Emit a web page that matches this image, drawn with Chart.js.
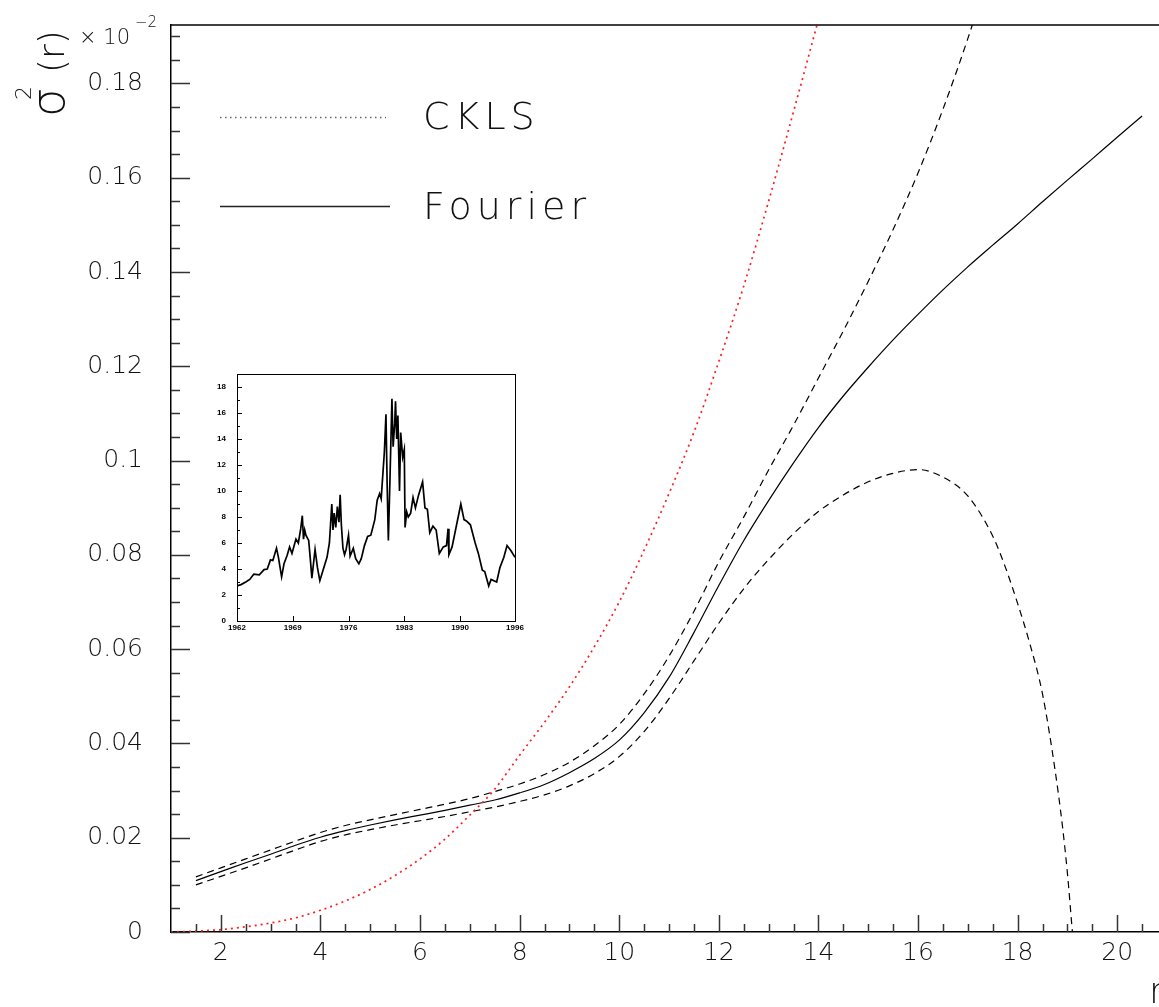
<!DOCTYPE html>
<html>
<head>
<meta charset="utf-8">
<script src="https://cdn.jsdelivr.net/npm/chart.js@4/dist/chart.umd.min.js"></script>
<style>
  html, body { margin: 0; padding: 0; background: #fff; overflow: hidden; }
  #wrap { position: relative; width: 1159px; height: 1007px; overflow: hidden; }
  #main { position: absolute; left: 0; top: 0; }
  #inset { position: absolute; left: 205px; top: 362px; }
</style>
</head>
<body>
<div id="wrap">
  <canvas id="main" width="1180" height="1007"></canvas>
  <canvas id="inset" width="320" height="275"></canvas>
</div>
<script>
// CKLS parametric volatility
var cklsR   = [1, 1.5, 2, 2.5, 3, 3.5, 4, 4.5, 5, 5.5, 6, 6.5, 7, 7.5, 8, 8.5, 9, 9.5, 10, 10.5, 11, 11.5, 12, 12.5, 13, 13.5, 14];
var cklsVar = [0, 0.0002, 0.0005, 0.0011, 0.0019, 0.003, 0.0046, 0.0066, 0.009, 0.012, 0.0155, 0.0197, 0.0248, 0.0303, 0.0375,
               0.0445, 0.052, 0.0605, 0.07, 0.081, 0.093, 0.106, 0.121, 0.137, 0.155, 0.174, 0.1935];

// Fourier estimate and its band
var fourierR   = [1.5, 2, 2.5, 3, 3.5, 4, 4.5, 5, 5.5, 6, 6.5, 7, 7.5, 8, 8.5, 9, 9.5, 10, 10.5, 11, 11.5, 12, 12.5, 13,
                  13.5, 14, 14.5, 15, 15.5, 16, 16.5, 17, 17.5, 18, 18.5, 19, 19.5, 20, 20.5];
var fourierVar = [0.0109, 0.0128, 0.0147, 0.0165, 0.0184, 0.0201, 0.0215, 0.0227, 0.0238, 0.0248, 0.0258, 0.0269, 0.028,
                  0.0295, 0.0313, 0.0338, 0.0368, 0.0407, 0.0465, 0.054, 0.0635, 0.0735, 0.083, 0.0915, 0.0995, 0.107,
                  0.1137, 0.1198, 0.1256, 0.131, 0.1362, 0.1411, 0.1457, 0.1502, 0.1549, 0.1595, 0.164, 0.1686, 0.1731];

var upperR   = [1.5, 2, 2.5, 3, 3.5, 4, 4.5, 5, 5.5, 6, 6.5, 7, 7.5, 8, 8.5, 9, 9.5, 10, 10.5, 11, 11.5, 12, 12.5, 13,
                13.5, 14, 14.5, 15, 15.5, 16, 16.5, 17, 17.5];
var upperVar = [0.0117, 0.0136, 0.0155, 0.0174, 0.0193, 0.0211, 0.0226, 0.0238, 0.0249, 0.026, 0.0271, 0.0283, 0.0298,
                0.0314, 0.0334, 0.036, 0.0395, 0.044, 0.0505, 0.0585, 0.068, 0.0785, 0.088, 0.098, 0.1075, 0.1175,
                0.1275, 0.138, 0.149, 0.161, 0.1745, 0.1895, 0.206];

var lowerR   = [1.5, 2, 2.5, 3, 3.5, 4, 4.5, 5, 5.5, 6, 6.5, 7, 7.5, 8, 8.5, 9, 9.5, 10, 10.5, 11, 11.5, 12, 12.5, 13,
                13.5, 14, 14.5, 15, 15.5, 16, 16.5, 17, 17.5, 17.75, 18, 18.25, 18.5, 18.75, 18.9, 19, 19.1];
var lowerVar = [0.01, 0.0118, 0.0136, 0.0155, 0.0174, 0.0192, 0.0206, 0.0217, 0.0227, 0.0236, 0.0245, 0.0255, 0.0265,
                0.0277, 0.0291, 0.031, 0.0336, 0.0372, 0.0425, 0.0495, 0.0575, 0.0655, 0.0728, 0.079, 0.0845, 0.0892,
                0.0927, 0.0955, 0.0973, 0.0981, 0.0965, 0.0925, 0.084, 0.0775, 0.0697, 0.061, 0.0505, 0.0345, 0.0225,
                0.0125, 0];

var xTicks = [2, 4, 6, 8, 10, 12, 14, 16, 18, 20];
var xTickLabels = ['2', '4', '6', '8', '10', '12', '14', '16', '18', '20'];
var yTicks = [0, 0.02, 0.04, 0.06, 0.08, 0.1, 0.12, 0.14, 0.16, 0.18];
var yTickLabels = ['0', '0.02', '0.04', '0.06', '0.08', '0.1', '0.12', '0.14', '0.16', '0.18'];

// short rate history for the small panel
var insetYears = [1962.0, 1962.5, 1963.1, 1963.6, 1964.1, 1964.8, 1965.4, 1965.8, 1966.2, 1966.5, 1966.96, 1967.2,
  1967.6, 1967.9, 1968.3, 1968.6, 1968.9, 1969.4, 1969.7, 1970.0, 1970.2, 1970.35, 1970.5, 1970.65, 1971.0, 1971.2,
  1971.4, 1971.8, 1972.1, 1972.4, 1972.8, 1973.3, 1973.6, 1973.9, 1974.05, 1974.2, 1974.4, 1974.6, 1974.8, 1974.95,
  1975.1, 1975.3, 1975.5, 1975.7, 1976.0, 1976.2, 1976.6, 1976.9, 1977.3, 1977.6, 1978.0, 1978.4, 1978.8, 1979.3,
  1979.6, 1979.9, 1980.1, 1980.3, 1980.5, 1980.7, 1980.85, 1981.0, 1981.2, 1981.45, 1981.6, 1981.8, 1981.9, 1982.05,
  1982.2, 1982.4, 1982.55, 1982.8, 1983.0, 1983.1, 1983.3, 1983.5, 1983.8, 1984.1, 1984.4, 1984.8, 1985.3, 1985.6,
  1985.9, 1986.2, 1986.6, 1987.0, 1987.4, 1987.9, 1988.3, 1988.5, 1988.6, 1989.0, 1989.6, 1990.1, 1990.5, 1990.8,
  1991.3, 1991.9, 1992.3, 1992.8, 1993.1, 1993.6, 1993.9, 1994.6, 1995.0, 1995.5, 1995.9, 1996.4, 1996.9];
var insetRates = [2.7, 2.8, 3.0, 3.2, 3.6, 3.55, 3.95, 4.0, 4.7, 4.65, 5.6, 4.9,
  3.4, 4.4, 5.05, 5.7, 5.2, 6.3, 6.0, 7.1, 8.1, 6.3, 7.0, 6.6, 6.2, 4.8,
  3.3, 5.5, 4.1, 3.1, 3.9, 4.9, 6.0, 9.0, 7.0, 8.3, 7.2, 8.8, 7.6, 9.7,
  7.4, 5.6, 5.1, 5.5, 6.6, 5.0, 5.6, 4.8, 4.4, 4.8, 5.8, 6.5, 6.6, 7.8,
  9.3, 9.8, 9.4, 11.2, 13.0, 15.9, 10.5, 6.2, 10.8, 17.1, 13.4, 15.2, 16.9, 14.0,
  15.8, 10.0, 14.5, 12.6, 13.2, 7.2, 8.4, 8.0, 8.3, 9.5, 8.7, 9.7, 10.7, 8.7,
  8.6, 6.8, 7.3, 7.0, 5.2, 5.7, 5.8, 7.1, 5.1, 5.7, 7.5, 9.0, 7.8, 7.7,
  7.4, 6.0, 5.2, 3.9, 3.8, 2.7, 3.2, 3.0, 4.1, 4.9, 5.8, 5.4, 4.9];
var insetXTicks = [1962, 1969, 1976, 1983, 1990, 1996.9];
var insetXLabels = ['1962', '1969', '1976', '1983', '1990', '1996'];
var insetYTicks = [0, 2, 4, 6, 8, 10, 12, 14, 16, 18];

var FONT = "'DejaVu Sans', sans-serif";

function toPoints(xs, ys) {
  return xs.map(function(x, i) { return {x: x, y: ys[i]}; });
}

// keep the plot box exactly where the layout puts it (no label overhang padding)
function fixSize(prop, size) {
  return function(s) {
    s[prop] = size;
    s.paddingTop = 0; s.paddingBottom = 0; s.paddingLeft = 0; s.paddingRight = 0;
  };
}

// inward ticks plus the top frame line
var rootTicks = {
  id: 'rootTicks',
  afterDraw: function(chart) {
    var ctx = chart.ctx, a = chart.chartArea, sx = chart.scales.x, sy = chart.scales.y;
    ctx.save();
    ctx.strokeStyle = '#000';
    ctx.lineWidth = 1.5;
    ctx.beginPath();
    ctx.moveTo(a.left, a.top);
    ctx.lineTo(a.right + 2, a.top);
    ctx.stroke();
    ctx.strokeStyle = '#333';
    for (var k = 0; k * 0.005 <= sy.max; k++) {
      var py = Math.round(sy.getPixelForValue(k * 0.005)) + 0.5;
      var len = (k % 4 === 0) ? 19 : 9;
      ctx.beginPath();
      ctx.moveTo(a.left, py);
      ctx.lineTo(a.left + len, py);
      ctx.stroke();
    }
    for (var j = 1; sx.min + j * 0.5 < sx.max; j++) {
      var v = sx.min + j * 0.5;
      var px = Math.round(sx.getPixelForValue(v)) + 0.5;
      var l = (v % 2 === 0) ? 17 : 8;
      ctx.beginPath();
      ctx.moveTo(px, a.bottom);
      ctx.lineTo(px, a.bottom - l);
      ctx.stroke();
    }
    ctx.restore();
  }
};

// legend entries and axis titles
var rootText = {
  id: 'rootText',
  afterDraw: function(chart) {
    var ctx = chart.ctx, ds = chart.data.datasets;
    ctx.save();
    ctx.lineWidth = 1.3;
    ctx.strokeStyle = '#666';
    ctx.setLineDash([1.5, 3.5]);
    ctx.beginPath(); ctx.moveTo(220, 117.5); ctx.lineTo(386, 117.5); ctx.stroke();
    ctx.setLineDash([]);
    ctx.strokeStyle = '#222';
    ctx.beginPath(); ctx.moveTo(220, 206.5); ctx.lineTo(390, 206.5); ctx.stroke();

    ctx.fillStyle = '#111';
    ctx.textBaseline = 'alphabetic';
    ctx.textAlign = 'left';
    ctx.font = '200 38px ' + FONT;
    ctx.letterSpacing = '5px';
    ctx.fillText(ds[0].label, 423, 129);
    ctx.fillText(ds[1].label, 423, 219);
    ctx.letterSpacing = '0px';

    // multiplier next to the y axis
    ctx.font = '200 21px ' + FONT;
    ctx.fillText('\u00d7 10', 79, 44);
    ctx.font = '200 15px ' + FONT;
    ctx.fillText('\u22122', 135, 27);

    // x axis title
    ctx.font = '200 36px ' + FONT;
    ctx.fillText('r', 1149, 1003);

    // y axis title, rotated
    ctx.translate(64, 117);
    ctx.rotate(-Math.PI / 2);
    ctx.font = '200 46px ' + FONT;
    ctx.fillText('\u03c3', 0, 0);
    ctx.font = '200 22px ' + FONT;
    ctx.fillText('2', 17, -33);
    ctx.font = '200 36px ' + FONT;
    ctx.fillText('(r)', 44, 0);
    ctx.restore();
  }
};

new Chart(document.getElementById('main'), {
  type: 'line',
  data: {
    datasets: [
      { label: 'CKLS', data: toPoints(cklsR, cklsVar), borderColor: 'rgb(255,30,30)', borderWidth: 1.7,
        borderDash: [2, 4], pointRadius: 0, cubicInterpolationMode: 'monotone' },
      { label: 'Fourier', data: toPoints(fourierR, fourierVar), borderColor: '#000', borderWidth: 1.2,
        pointRadius: 0, cubicInterpolationMode: 'monotone' },
      { label: 'upper', data: toPoints(upperR, upperVar), borderColor: '#000', borderWidth: 1.2,
        borderDash: [7, 5], pointRadius: 0, cubicInterpolationMode: 'monotone' },
      { label: 'lower', data: toPoints(lowerR, lowerVar), borderColor: '#000', borderWidth: 1.2,
        borderDash: [7, 5], pointRadius: 0, cubicInterpolationMode: 'monotone' }
    ]
  },
  options: {
    responsive: false,
    animation: false,
    devicePixelRatio: 1,
    layout: { padding: { top: 25, right: 13, left: 0, bottom: 0 } },
    plugins: { legend: { display: false }, tooltip: { enabled: false } },
    scales: {
      x: {
        type: 'linear', min: 1, max: 21,
        grid: { display: false, drawTicks: false },
        border: { color: '#000', width: 1.5 },
        afterBuildTicks: function(s) { s.ticks = xTicks.map(function(v) { return {value: v}; }); },
        afterFit: fixSize('height', 75),
        ticks: {
          autoSkip: false, maxRotation: 0, padding: 6, color: '#111',
          font: { family: FONT, size: 25, weight: 200 },
          callback: function(v, i) { return xTickLabels[i]; }
        }
      },
      y: {
        type: 'linear', min: 0, max: 0.1924,
        grid: { display: false, drawTicks: false },
        border: { color: '#000', width: 1.5 },
        afterBuildTicks: function(s) { s.ticks = yTicks.map(function(v) { return {value: v}; }); },
        afterFit: fixSize('width', 171),
        ticks: {
          autoSkip: false, padding: 28, color: '#111',
          font: { family: FONT, size: 25, weight: 200 },
          callback: function(v, i) { return yTickLabels[i]; }
        }
      }
    }
  },
  plugins: [rootTicks, rootText]
});

// boxed frame with inward ticks for the small panel
var insetFrame = {
  id: 'insetFrame',
  afterDraw: function(chart) {
    var ctx = chart.ctx, a = chart.chartArea, sx = chart.scales.x, sy = chart.scales.y;
    ctx.save();
    ctx.strokeStyle = '#000';
    ctx.lineWidth = 1;
    ctx.strokeRect(Math.round(a.left) + 0.5, Math.round(a.top) + 0.5,
                   Math.round(a.right - a.left), Math.round(a.bottom - a.top));
    for (var v = 1; v < sy.max; v++) {
      var py = Math.round(sy.getPixelForValue(v)) + 0.5;
      ctx.beginPath();
      ctx.moveTo(a.left, py);
      ctx.lineTo(a.left + (v % 2 === 0 ? 5 : 3), py);
      ctx.stroke();
    }
    insetXTicks.forEach(function(t) {
      var px = Math.round(sx.getPixelForValue(t)) + 0.5;
      ctx.beginPath();
      ctx.moveTo(px, a.bottom);
      ctx.lineTo(px, a.bottom - 5);
      ctx.stroke();
    });
    ctx.restore();
  }
};

new Chart(document.getElementById('inset'), {
  type: 'line',
  data: {
    datasets: [{ data: toPoints(insetYears, insetRates), borderColor: '#000', borderWidth: 1.7,
                 pointRadius: 0, tension: 0 }]
  },
  options: {
    responsive: false,
    animation: false,
    devicePixelRatio: 1,
    layout: { padding: { top: 12, right: 10, left: 0, bottom: 0 } },
    plugins: { legend: { display: false }, tooltip: { enabled: false } },
    scales: {
      x: {
        type: 'linear', min: 1962, max: 1996.9,
        grid: { display: false, drawTicks: false },
        border: { display: false },
        afterBuildTicks: function(s) { s.ticks = insetXTicks.map(function(v) { return {value: v}; }); },
        afterFit: fixSize('height', 16),
        ticks: {
          autoSkip: false, maxRotation: 0, padding: 2, color: '#000',
          font: { family: 'Liberation Sans', size: 8, weight: 'bold' },
          callback: function(v, i) { return insetXLabels[i]; }
        }
      },
      y: {
        type: 'linear', min: 0, max: 19,
        grid: { display: false, drawTicks: false },
        border: { display: false },
        afterBuildTicks: function(s) { s.ticks = insetYTicks.map(function(v) { return {value: v}; }); },
        afterFit: fixSize('width', 32),
        ticks: {
          autoSkip: false, padding: 11, color: '#000',
          font: { family: 'Liberation Sans', size: 8, weight: 'bold' }
        }
      }
    }
  },
  plugins: [insetFrame]
});
</script>
</body>
</html>
